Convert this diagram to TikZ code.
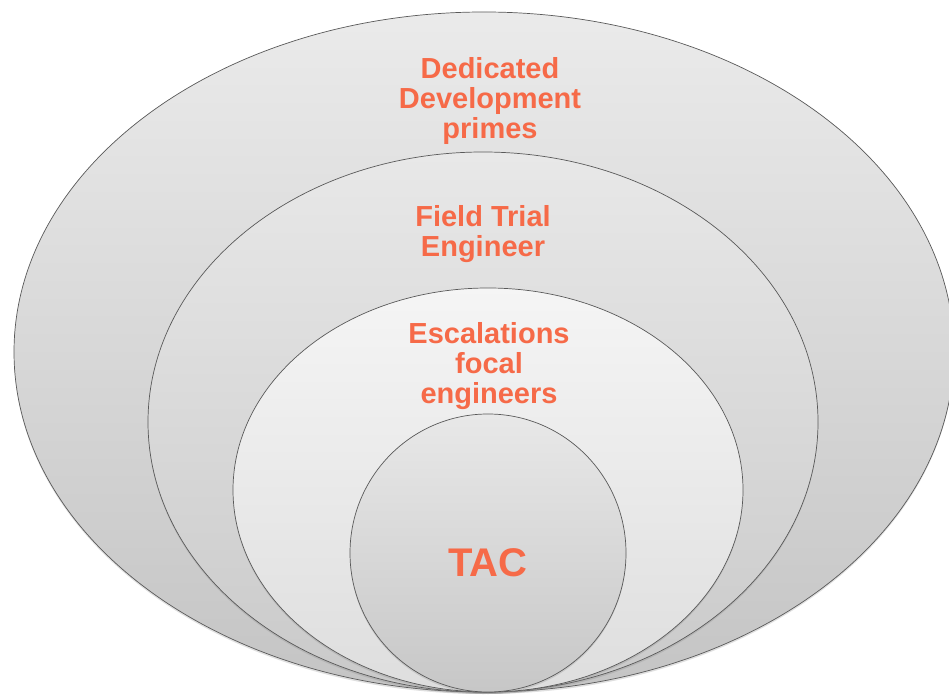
\documentclass[tikz,border=0pt]{standalone}
\usepackage{fontspec}
\setmainfont{Liberation Sans}
\usetikzlibrary{shadows}
\definecolor{coral}{RGB}{246,106,72}

\begin{document}
\begin{tikzpicture}[x=1pt, y=1pt,
  ring/.style = {draw=black!65, line width=0.7pt, drop shadow={opacity=0.25, shadow xshift=0pt, shadow yshift=-2pt}},
  lbl/.style = {align=center, text=coral, font=\bfseries\fontsize{29}{30}\selectfont}]
\path[use as bounding box, clip] (0,0) rectangle (949,696);
\fill[white] (0,0) rectangle (949,696);
\path[ring, top color=black!8, bottom color=black!23] (484,344) ellipse [x radius=470, y radius=340];
\path[ring, top color=black!9, bottom color=black!21] (483,274) ellipse [x radius=335, y radius=270];
\path[ring, top color=black!4, bottom color=black!13] (488,206) ellipse [x radius=255, y radius=202];
\path[ring, top color=black!9, bottom color=black!22] (488,143) ellipse [x radius=138, y radius=139];
\node[lbl] (dev) at (490,595) {Dedicated\\Development\\primes};
\node[lbl] (field) at (483,462) {Field Trial\\Engineer};
\node[lbl] (esc) at (489,330) {Escalations\\focal\\engineers};
\node[lbl, font=\bfseries\fontsize{40}{40}\selectfont] (tac) at (488,133) {TAC};
\end{tikzpicture}
\end{document}
